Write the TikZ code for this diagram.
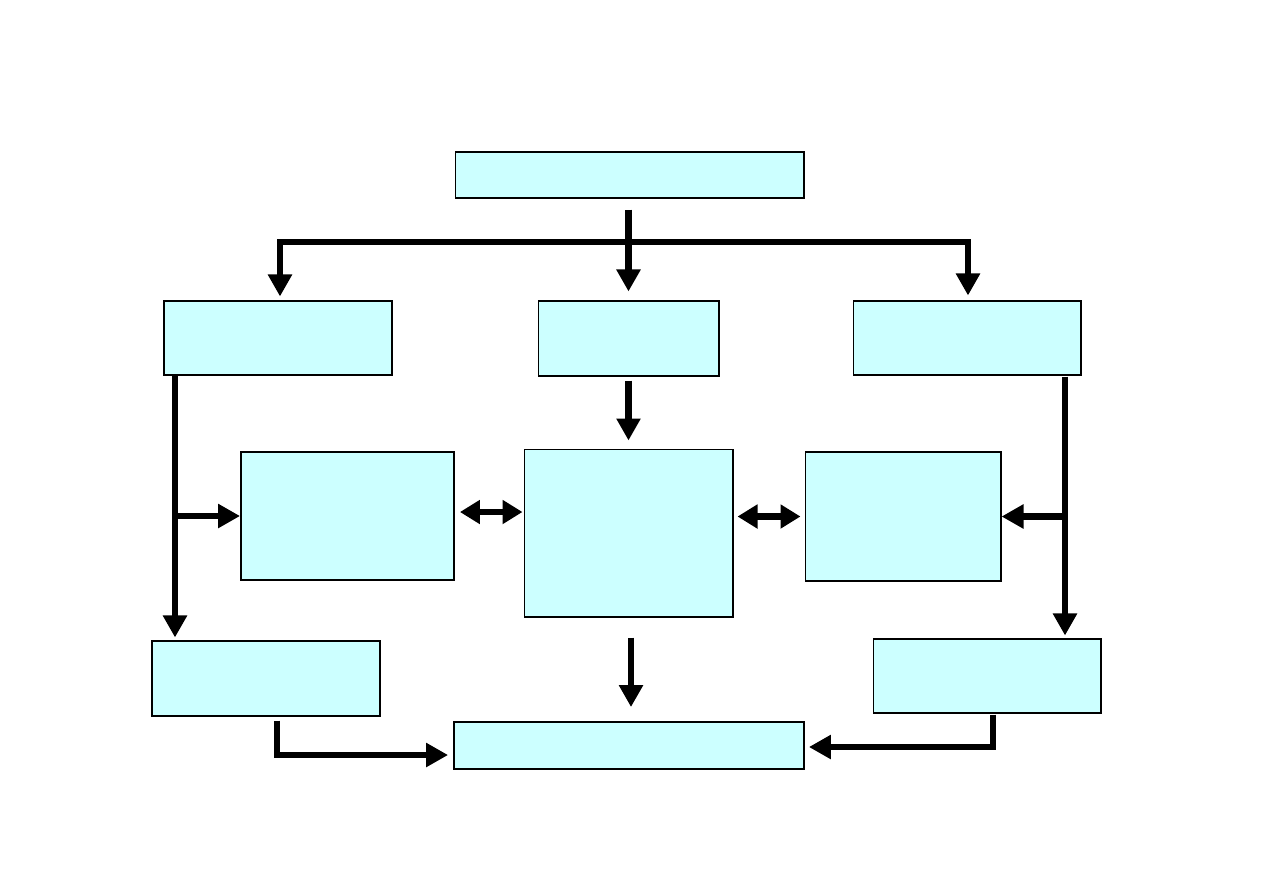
\documentclass[tikz,border=0pt]{standalone}
\usetikzlibrary{arrows.meta}
\definecolor{boxfill}{HTML}{CCFFFF}
\begin{document}
\begin{tikzpicture}[x=0.02cm,y=-0.02cm,
  box/.style={draw=black,fill=boxfill,line width=0.6pt,inner sep=0pt,rectangle},
  boxb/.style={box,line width=1.1pt},
  arr/.style={line width=0.13cm,-{Triangle[length=0.44cm,width=0.46cm]}},
  darr/.style={line width=0.13cm,{Triangle[length=0.4cm,width=0.46cm]}-{Triangle[length=0.4cm,width=0.46cm]}},
  tree/.style={line width=0.13cm,{Triangle[length=0.44cm,width=0.46cm]}-{Triangle[length=0.44cm,width=0.46cm]}}]
\useasboundingbox (0,0) rectangle (1263,893);
\node[box,minimum width=6.98cm,minimum height=0.92cm] (top) at (629.5,175) {};
\node[box,minimum width=4.56cm,minimum height=1.48cm] (l1) at (278,338) {};
\node[box,minimum width=3.62cm,minimum height=1.5cm] (m1) at (628.5,338.5) {};
\node[box,minimum width=4.56cm,minimum height=1.48cm] (r1) at (967,338) {};
\node[boxb,minimum width=4.26cm,minimum height=2.56cm] (l2) at (347.5,516) {};
\node[box,minimum width=4.18cm,minimum height=3.36cm] (c) at (628.5,533) {};
\node[box,minimum width=3.92cm,minimum height=2.58cm] (r2) at (903,516.5) {};
\node[box,minimum width=4.56cm,minimum height=1.5cm] (l3) at (266,678.5) {};
\node[box,minimum width=4.56cm,minimum height=1.48cm] (r3) at (987,676) {};
\node[boxb,minimum width=7.0cm,minimum height=0.94cm] (bot) at (629,745.5) {};
% top tree
\coordinate (hl) at (280,242);
\coordinate (hr) at (968,242);
\draw[tree,shorten <=0.08cm,shorten >=0.1cm] (hl |- l1.north) -- (hl) -- (hr) -- (hr |- r1.north);
\draw[arr,shorten <=0.22cm,shorten >=0.18cm] (m1.north |- top.south) -- (m1.north);
\draw[arr,shorten <=0.08cm,shorten >=0.16cm] (m1.south) -- (m1.south |- c.north);
% left side
\coordinate (lx) at (175,0);
\draw[arr,shorten >=0.06cm] (lx |- l1.south) -- (lx |- l3.north);
\draw[arr] (lx |- l2.west) -- (l2.west);
% right side
\coordinate (rx) at (1065,0);
\draw[arr,shorten <=0.02cm,shorten >=0.06cm] (rx |- r1.south) -- (rx |- r3.north);
\draw[arr] (rx |- r2.east) -- (r2.east);
% double arrows
\draw[darr,shorten <=0.1cm,shorten >=0.02cm] ([yshift=0.08cm]l2.east) -- ([yshift=0.08cm]c.west |- l2.east);
\draw[darr,shorten <=0.08cm,shorten >=0.08cm] (c.east |- r2.west) -- (r2.west);
% center to bottom
\draw[arr,shorten <=0.4cm,shorten >=0.28cm] ([xshift=0.05cm]c.south) -- ([xshift=0.05cm]c.south |- bot.north);
% bottom corners
\coordinate (lc) at (277,755);
\draw[arr,shorten <=0.08cm,shorten >=0.1cm] (lc |- l3.south) -- (lc) -- (bot.west |- lc);
\coordinate (rc) at (993,747);
\draw[arr,shorten <=0.02cm,shorten >=0.08cm] (rc |- r3.south) -- (rc) -- (bot.east |- rc);
\end{tikzpicture}
\end{document}
